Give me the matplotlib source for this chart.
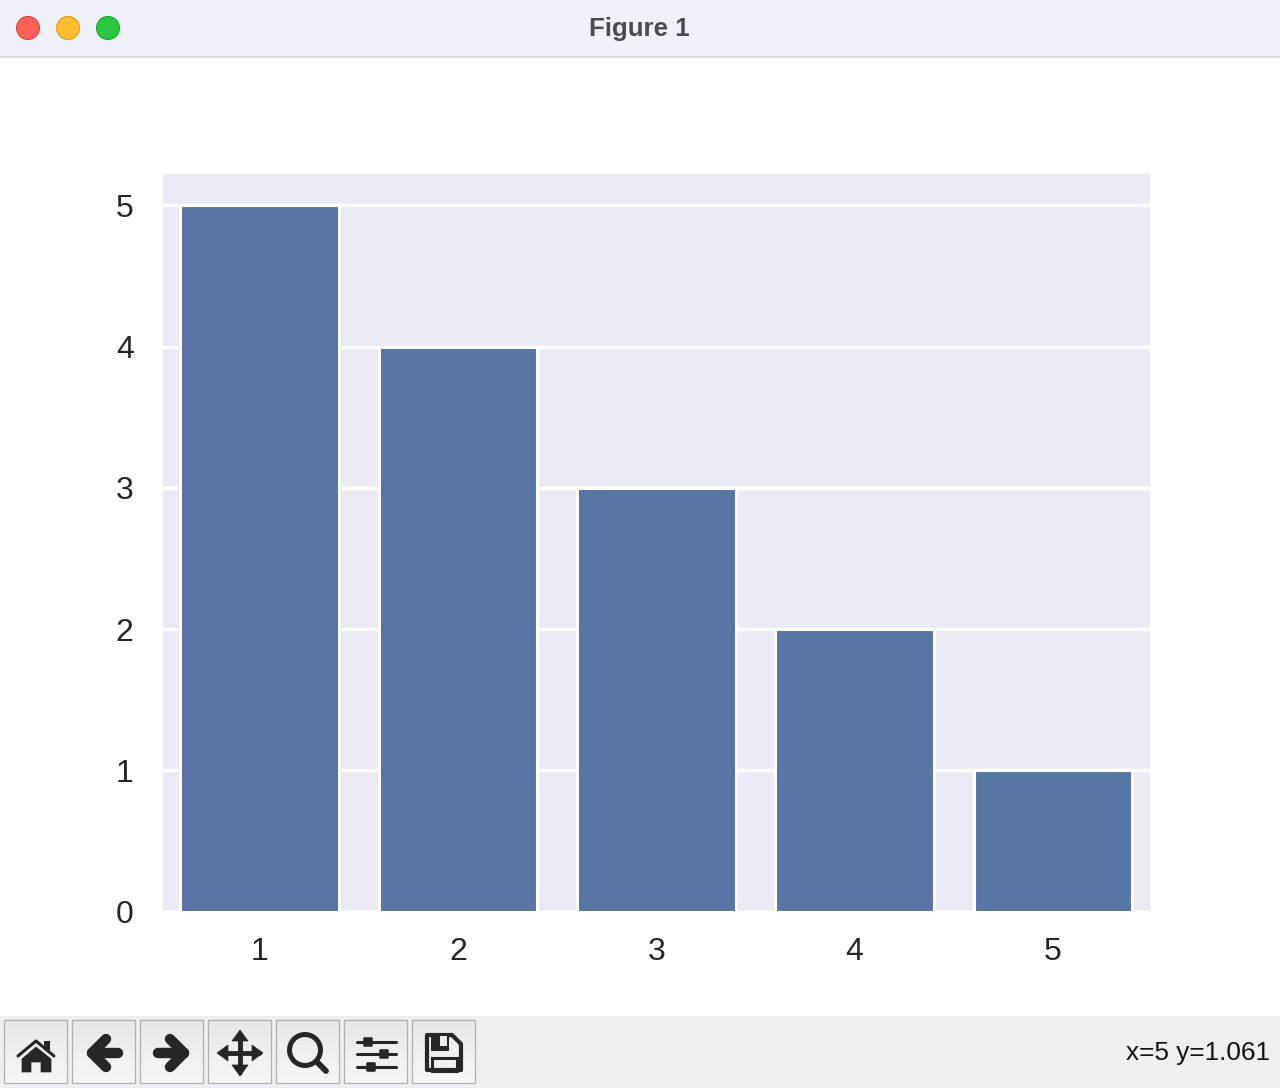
import matplotlib

matplotlib.use("Agg")
import matplotlib.pyplot as plt
import numpy as np
import seaborn as sns
from matplotlib.patches import Circle, FancyBboxPatch, Polygon, Rectangle

categories = [1, 2, 3, 4, 5]
values = [5, 4, 3, 2, 1]
window_title = "Figure 1"
status_text = "x=5 y=1.061"

W, H = 1280, 1088
BAR_COLOR = "#5975a4"
ICON = "#262626"

sns.set_theme(style="darkgrid")
plt.rcParams["font.family"] = ["Liberation Sans", "DejaVu Sans"]

fig = plt.figure(figsize=(W / 100, H / 100), dpi=100, facecolor="white")

ax = fig.add_axes([161.5 / W, 1 - 911.5 / H, 989.5 / W, 738.5 / H])
sns.barplot(x=categories, y=values, color=BAR_COLOR, ax=ax, saturation=1.0,
            edgecolor="white", linewidth=2.2)
ax.set_xlim(-0.495, 4.495)
ax.set_ylim(0, 5.23)
ax.grid(True, axis="y", color="white", linewidth=2.5)
ax.grid(False, axis="x")
ax.tick_params(axis="both", labelsize=23, colors="#262626", length=0)
ax.tick_params(axis="x", pad=18.5)
ax.tick_params(axis="y", pad=20)

# window chrome, in pixel coordinates
ui = fig.add_axes([0, 0, 1, 1], zorder=5)
ui.axis("off")
ui.patch.set_alpha(0)

ui.add_patch(Rectangle((0, 0), W, 56, fc="#f0f0f8", ec="none"))
ui.plot([0, W], [56.5, 56.5], color="#d6d6d8", lw=1.2)
for cx, fc, ec in [(28, "#ff5f57", "#e0443e"), (68, "#febc2e", "#dfa023"), (108, "#28c840", "#1aab29")]:
    ui.add_patch(Circle((cx, 28), 11.5, fc=fc, ec=ec, lw=0.8))
ui.text(639, 29, window_title, ha="center", va="center", fontsize=18.6,
        fontweight="bold", color="#4a4a4f")

ui.add_patch(Rectangle((0, 1016), W, 72, fc="#eeeef3", ec="none"))
grad = np.linspace(0.9, 0.965, 32).reshape(-1, 1)
for i in range(7):
    x0 = 3.5 + 68 * i
    ui.imshow(grad, extent=(x0, x0 + 64, 1083, 1019.5), cmap="gray", vmin=0, vmax=1,
              aspect="auto", zorder=1.5)
    ui.add_patch(Rectangle((x0 + 0.5, 1020), 63, 63, fc="none", ec="#b0b0b0", lw=0.9, zorder=2))

line = dict(color=ICON, solid_capstyle="round", solid_joinstyle="round", zorder=3)

# home
ui.plot([18, 36, 54], [1056, 1041, 1056], lw=2.2, **line)
ui.add_patch(Polygon([(36, 1047), (51, 1059), (51, 1072), (41, 1072), (41, 1062), (31, 1062),
                      (31, 1072), (22, 1072), (22, 1059)], fc=ICON, ec=ICON, lw=0.5, zorder=3))
ui.add_patch(Rectangle((44, 1041), 6, 9, fc=ICON, ec="none", zorder=3))
# back
ui.plot([118, 92, 106], [1053, 1053, 1067], lw=7.5, **line)
ui.plot([92, 106], [1053, 1039], lw=7.5, **line)
# forward
ui.plot([158, 184, 170], [1053, 1053, 1067], lw=7.5, **line)
ui.plot([184, 170], [1053, 1039], lw=7.5, **line)
# pan
ui.plot([221, 259], [1053, 1053], color=ICON, lw=3.5, zorder=3)
ui.plot([240, 240], [1034, 1072], color=ICON, lw=3.5, zorder=3)
for tip, a, b in [((217, 1053), (228, 1045), (228, 1061)), ((263, 1053), (252, 1045), (252, 1061)),
                  ((240, 1030), (232, 1041), (248, 1041)), ((240, 1076), (232, 1065), (248, 1065))]:
    ui.add_patch(Polygon([tip, a, b], fc=ICON, ec=ICON, lw=0.5, zorder=3))
# zoom
ui.add_patch(Circle((305, 1050), 15.5, fc="none", ec=ICON, lw=3.6, zorder=3))
ui.plot([317, 326], [1062, 1071], lw=4.2, **line)
# sliders
for yy, kx in [(1042, 368), (1054, 384), (1067, 371)]:
    ui.plot([357, 396], [yy, yy], color=ICON, lw=2.2, zorder=3)
    ui.add_patch(FancyBboxPatch((kx - 4, yy - 4), 8, 8, boxstyle="round,pad=0.8,rounding_size=1.5",
                                fc=ICON, ec="none", zorder=4))
# save
ui.add_patch(Polygon([(427, 1035), (452, 1035), (461, 1044), (461, 1070), (427, 1070)],
                     fc="none", ec=ICON, lw=3.0, joinstyle="round", zorder=3))
ui.add_patch(Rectangle((431, 1035), 18, 16, fc=ICON, ec="none", zorder=3))
ui.add_patch(Rectangle((440, 1036), 7, 10, fc="#ececec", ec="none", zorder=4))
ui.add_patch(Rectangle((432, 1058), 25, 13, fc="none", ec=ICON, lw=2.2, zorder=3))

ui.text(1270, 1053, status_text, ha="right", va="center", fontsize=18.8, color="#111111")
ui.set_xlim(0, W)
ui.set_ylim(H, 0)
ui.set_aspect("auto")

fig.savefig("out.png", dpi=100)
